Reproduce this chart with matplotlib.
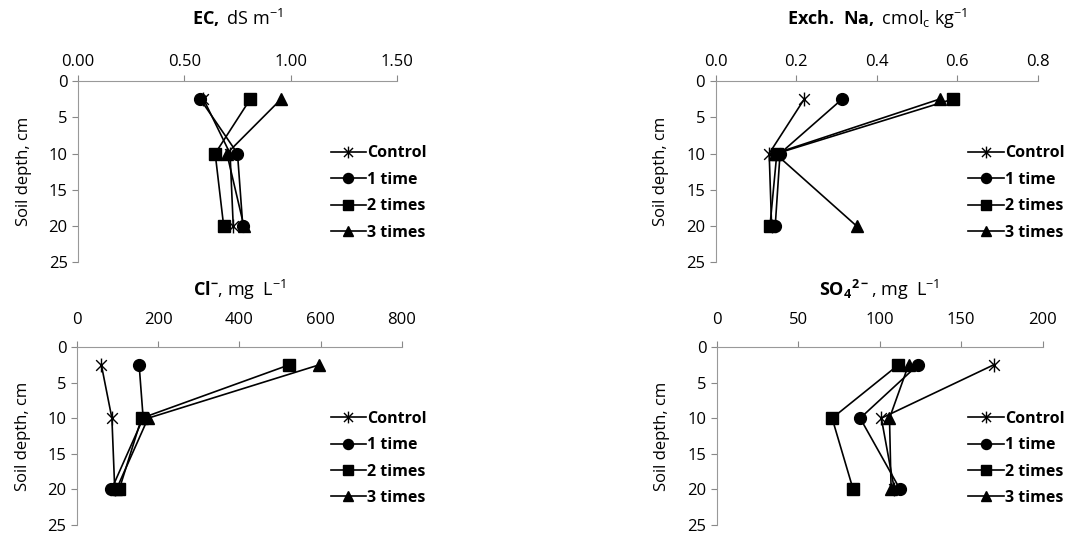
import numpy as np
import matplotlib.pyplot as plt
from matplotlib.path import Path

plt.rcParams['font.family'] = ['Open Sans', 'DejaVu Sans']
plt.rcParams['mathtext.fontset'] = 'custom'
plt.rcParams['mathtext.rm'] = 'Open Sans'
plt.rcParams['mathtext.bf'] = 'Open Sans:bold'

# depths (cm)
depth = [2.5, 10, 20]
labels = ["Control", "1 time", "2 times", "3 times"]

# EC, dS m-1
ec_control = [0.59, 0.715, 0.73]
ec_1 = [0.575, 0.75, 0.775]
ec_2 = [0.81, 0.645, 0.685]
ec_3 = [0.955, 0.70, 0.78]

# Exch. Na, cmolc kg-1
na_control = [0.22, 0.133, 0.139]
na_1 = [0.314, 0.16, 0.148]
na_2 = [0.589, 0.152, 0.135]
na_3 = [0.556, 0.148, 0.35]

# Cl-, mg L-1
cl_control = [60, 86, 93]
cl_1 = [153, 163, 85]
cl_2 = [523, 159, 104]
cl_3 = [597, 175, 97]

# SO4 2-, mg L-1
so4_control = [170, 101, 109]
so4_1 = [123.5, 88, 112.5]
so4_2 = [111.5, 70.8, 83.7]
so4_3 = [117.7, 106, 107]

# excel style star: x with a vertical bar
star = Path([(-1, -1), (1, 1), (-1, 1), (1, -1), (0, -1.3), (0, 1.3)],
            [Path.MOVETO, Path.LINETO, Path.MOVETO, Path.LINETO, Path.MOVETO, Path.LINETO])
markers = [star, "o", "s", "^"]
sizes = [10, 8.5, 8, 8.5]

panels = [
    dict(rect=[0.0722, 0.508, 0.295, 0.340], series=[ec_control, ec_1, ec_2, ec_3],
         xlim=(0, 1.5), xticks=[0, 0.5, 1.0, 1.5], fmt="{:.2f}", tpad=4, ttl=21,
         title=r"$\mathbf{EC,}$ dS m$^{-1}$", leg=(0.300, 0.638)),
    dict(rect=[0.662, 0.508, 0.298, 0.340], series=[na_control, na_1, na_2, na_3],
         xlim=(0, 0.8), xticks=[0, 0.2, 0.4, 0.6, 0.8], fmt="{:.1f}", tpad=4, ttl=21,
         title=r"$\mathbf{Exch.\ Na,}$ cmol$_{\rm c}$ kg$^{-1}$", leg=(0.890, 0.638)),
    dict(rect=[0.0712, 0.015, 0.3006, 0.334], series=[cl_control, cl_1, cl_2, cl_3],
         xlim=(0, 800), xticks=[0, 200, 400, 600, 800], fmt="{:.0f}", tpad=10, ttl=11,
         title=r"$\mathbf{Cl^{-}}$, mg  L$^{-1}$", leg=(0.300, 0.140)),
    dict(rect=[0.663, 0.015, 0.3016, 0.334], series=[so4_control, so4_1, so4_2, so4_3],
         xlim=(0, 200), xticks=[0, 50, 100, 150, 200], fmt="{:.0f}", tpad=10, ttl=11,
         title=r"$\mathbf{SO_4{}^{2-}}$, mg  L$^{-1}$", leg=(0.890, 0.140)),
]

fig = plt.figure(figsize=(10.81, 5.33), dpi=100)

for p in panels:
    ax = fig.add_axes(p["rect"])
    for vals, m, ms, lab in zip(p["series"], markers, sizes, labels):
        ax.plot(vals, depth, color="black", lw=1.2, marker=m, ms=ms,
                mec="black", mfc="black", mew=1.0, label=lab)
    ax.set_xlim(p["xlim"])
    ax.set_ylim(25, 0)
    ax.set_xticks(p["xticks"])
    ax.set_xticklabels([p["fmt"].format(v) for v in p["xticks"]])
    ax.set_yticks([0, 5, 10, 15, 20, 25])
    ax.xaxis.tick_top()
    ax.tick_params(axis="both", labelsize=12, color="#888888", length=4, width=0.8)
    ax.tick_params(axis="x", pad=p["tpad"])
    for s in ["right", "bottom"]:
        ax.spines[s].set_visible(False)
    for s in ["left", "top"]:
        ax.spines[s].set_color("#999999")
        ax.spines[s].set_linewidth(0.8)
    ax.set_ylabel("Soil depth, cm", fontsize=12, labelpad=12)
    ax.set_title(p["title"], fontsize=13, pad=p["ttl"])
    ax.legend(loc="center left", bbox_to_anchor=p["leg"], bbox_transform=fig.transFigure,
              frameon=False, prop=dict(size=11.5, weight="bold"), handlelength=2.2,
              handletextpad=0.1, labelspacing=0.65, borderaxespad=0, markerscale=0.85)

fig.savefig("out.png", dpi=100)
